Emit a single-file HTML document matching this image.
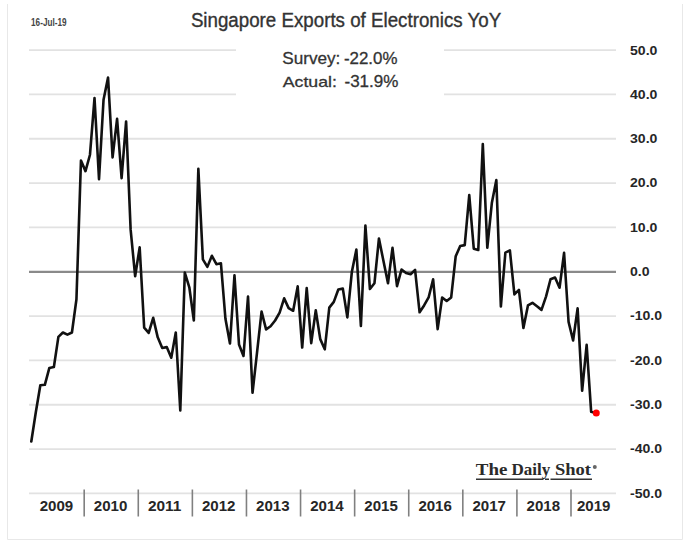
<!DOCTYPE html><html><head><meta charset="utf-8"><style>html,body{margin:0;padding:0;background:#fff;width:689px;height:545px;overflow:hidden}svg{display:block}</style></head><body>
<svg width="689" height="545" viewBox="0 0 689 545">
<rect width="689" height="545" fill="#fff"/>
<path d="M7.5 4V539.5H682.5V4" fill="none" stroke="#e8e8e8" stroke-width="1"/>
<path d="M29 50.10H236M444 50.10H616" stroke="#e2e2e2" stroke-width="1.8"/>
<path d="M29 94.43H236M444 94.43H616" stroke="#e2e2e2" stroke-width="1.8"/>
<path d="M29 138.76H616" stroke="#e2e2e2" stroke-width="1.8"/>
<path d="M29 183.09H616" stroke="#e2e2e2" stroke-width="1.8"/>
<path d="M29 227.42H616" stroke="#e2e2e2" stroke-width="1.8"/>
<path d="M29 316.08H616" stroke="#e2e2e2" stroke-width="1.8"/>
<path d="M29 360.41H616" stroke="#e2e2e2" stroke-width="1.8"/>
<path d="M29 404.74H616" stroke="#e2e2e2" stroke-width="1.8"/>
<path d="M29 449.07H616" stroke="#e2e2e2" stroke-width="1.8"/>
<path d="M29 493.40H616" stroke="#e2e2e2" stroke-width="1.8"/>
<path d="M29 271.90H616" stroke="#8a8a8a" stroke-width="2.1"/>
<path d="M84.19 489.5V516.5" stroke="#808080" stroke-width="1.6"/>
<path d="M138.28 489.5V516.5" stroke="#808080" stroke-width="1.6"/>
<path d="M192.37 489.5V516.5" stroke="#808080" stroke-width="1.6"/>
<path d="M246.46 489.5V516.5" stroke="#808080" stroke-width="1.6"/>
<path d="M300.55 489.5V516.5" stroke="#808080" stroke-width="1.6"/>
<path d="M354.64 489.5V516.5" stroke="#808080" stroke-width="1.6"/>
<path d="M408.73 489.5V516.5" stroke="#808080" stroke-width="1.6"/>
<path d="M462.82 489.5V516.5" stroke="#808080" stroke-width="1.6"/>
<path d="M516.91 489.5V516.5" stroke="#808080" stroke-width="1.6"/>
<path d="M571.00 489.5V516.5" stroke="#808080" stroke-width="1.6"/>
<text x="39.75" y="511.20" textLength="33.50" lengthAdjust="spacingAndGlyphs" font-family='"Liberation Sans", sans-serif' font-weight="bold" font-size="15.10" fill="#262626">2009</text>
<text x="93.84" y="511.20" textLength="33.50" lengthAdjust="spacingAndGlyphs" font-family='"Liberation Sans", sans-serif' font-weight="bold" font-size="15.10" fill="#262626">2010</text>
<text x="147.93" y="511.20" textLength="33.50" lengthAdjust="spacingAndGlyphs" font-family='"Liberation Sans", sans-serif' font-weight="bold" font-size="15.10" fill="#262626">2011</text>
<text x="202.01" y="511.20" textLength="33.50" lengthAdjust="spacingAndGlyphs" font-family='"Liberation Sans", sans-serif' font-weight="bold" font-size="15.10" fill="#262626">2012</text>
<text x="256.11" y="511.20" textLength="33.50" lengthAdjust="spacingAndGlyphs" font-family='"Liberation Sans", sans-serif' font-weight="bold" font-size="15.10" fill="#262626">2013</text>
<text x="310.20" y="511.20" textLength="33.50" lengthAdjust="spacingAndGlyphs" font-family='"Liberation Sans", sans-serif' font-weight="bold" font-size="15.10" fill="#262626">2014</text>
<text x="364.29" y="511.20" textLength="33.50" lengthAdjust="spacingAndGlyphs" font-family='"Liberation Sans", sans-serif' font-weight="bold" font-size="15.10" fill="#262626">2015</text>
<text x="418.38" y="511.20" textLength="33.50" lengthAdjust="spacingAndGlyphs" font-family='"Liberation Sans", sans-serif' font-weight="bold" font-size="15.10" fill="#262626">2016</text>
<text x="472.47" y="511.20" textLength="33.50" lengthAdjust="spacingAndGlyphs" font-family='"Liberation Sans", sans-serif' font-weight="bold" font-size="15.10" fill="#262626">2017</text>
<text x="526.56" y="511.20" textLength="33.50" lengthAdjust="spacingAndGlyphs" font-family='"Liberation Sans", sans-serif' font-weight="bold" font-size="15.10" fill="#262626">2018</text>
<text x="576.90" y="511.20" textLength="33.50" lengthAdjust="spacingAndGlyphs" font-family='"Liberation Sans", sans-serif' font-weight="bold" font-size="15.10" fill="#262626">2019</text>
<text x="630.00" y="54.50" textLength="27.44" lengthAdjust="spacingAndGlyphs" font-family='"Liberation Sans", sans-serif' font-weight="bold" font-size="13.30" fill="#262626">50.0</text>
<text x="630.00" y="98.83" textLength="27.44" lengthAdjust="spacingAndGlyphs" font-family='"Liberation Sans", sans-serif' font-weight="bold" font-size="13.30" fill="#262626">40.0</text>
<text x="630.00" y="143.16" textLength="27.44" lengthAdjust="spacingAndGlyphs" font-family='"Liberation Sans", sans-serif' font-weight="bold" font-size="13.30" fill="#262626">30.0</text>
<text x="630.00" y="187.49" textLength="27.44" lengthAdjust="spacingAndGlyphs" font-family='"Liberation Sans", sans-serif' font-weight="bold" font-size="13.30" fill="#262626">20.0</text>
<text x="630.00" y="231.82" textLength="27.44" lengthAdjust="spacingAndGlyphs" font-family='"Liberation Sans", sans-serif' font-weight="bold" font-size="13.30" fill="#262626">10.0</text>
<text x="630.00" y="276.15" textLength="19.60" lengthAdjust="spacingAndGlyphs" font-family='"Liberation Sans", sans-serif' font-weight="bold" font-size="13.30" fill="#262626">0.0</text>
<text x="630.00" y="320.48" textLength="32.13" lengthAdjust="spacingAndGlyphs" font-family='"Liberation Sans", sans-serif' font-weight="bold" font-size="13.30" fill="#262626">-10.0</text>
<text x="630.00" y="364.81" textLength="32.13" lengthAdjust="spacingAndGlyphs" font-family='"Liberation Sans", sans-serif' font-weight="bold" font-size="13.30" fill="#262626">-20.0</text>
<text x="630.00" y="409.14" textLength="32.13" lengthAdjust="spacingAndGlyphs" font-family='"Liberation Sans", sans-serif' font-weight="bold" font-size="13.30" fill="#262626">-30.0</text>
<text x="630.00" y="453.47" textLength="32.13" lengthAdjust="spacingAndGlyphs" font-family='"Liberation Sans", sans-serif' font-weight="bold" font-size="13.30" fill="#262626">-40.0</text>
<text x="630.00" y="497.80" textLength="32.13" lengthAdjust="spacingAndGlyphs" font-family='"Liberation Sans", sans-serif' font-weight="bold" font-size="13.30" fill="#262626">-50.0</text>
<text x="190.88" y="27.30" textLength="310.32" lengthAdjust="spacingAndGlyphs" font-family='"Liberation Sans", sans-serif' font-weight="normal" font-size="19.30" fill="#333" stroke="#333" stroke-width="0.35">Singapore Exports of Electronics YoY</text>
<text x="31.08" y="25.70" textLength="35.41" lengthAdjust="spacingAndGlyphs" font-family='"Liberation Sans", sans-serif' font-weight="bold" font-size="10.09" fill="#444">16-Jul-19</text>
<text x="282.22" y="64.30" textLength="58.15" lengthAdjust="spacingAndGlyphs" font-family='"Liberation Sans", sans-serif' font-weight="normal" font-size="16.50" fill="#333" stroke="#333" stroke-width="0.3">Survey:</text>
<text x="343.98" y="64.30" textLength="53.49" lengthAdjust="spacingAndGlyphs" font-family='"Liberation Sans", sans-serif' font-weight="normal" font-size="16.50" fill="#333" stroke="#333" stroke-width="0.3">-22.0%</text>
<text x="282.78" y="87.20" textLength="54.10" lengthAdjust="spacingAndGlyphs" font-family='"Liberation Sans", sans-serif' font-weight="normal" font-size="15.11" fill="#333" stroke="#333" stroke-width="0.3">Actual:</text>
<text x="344.48" y="87.20" textLength="53.89" lengthAdjust="spacingAndGlyphs" font-family='"Liberation Sans", sans-serif' font-weight="normal" font-size="15.88" fill="#333" stroke="#333" stroke-width="0.3">-31.9%</text>
<text x="475.88" y="474.80" textLength="31.55" lengthAdjust="spacingAndGlyphs" font-family='"Liberation Serif", serif' font-weight="bold" font-size="16.94" fill="#2a2a2a">The</text>
<text x="511.46" y="474.80" textLength="38.87" lengthAdjust="spacingAndGlyphs" font-family='"Liberation Serif", serif' font-weight="bold" font-size="16.94" fill="#2a2a2a">Daily</text>
<text x="554.94" y="474.80" textLength="35.99" lengthAdjust="spacingAndGlyphs" font-family='"Liberation Serif", serif' font-weight="bold" font-size="16.94" fill="#2a2a2a">Shot</text>
<circle cx="594.8" cy="467" r="2" fill="#666"/>
<path d="M476 479.2H543.5M545 479.2H549M550.5 479.2H592" stroke="#333" stroke-width="1.4"/>
<polyline points="31.30,441.53 35.81,412.28 40.33,385.23 44.84,384.79 49.36,367.95 53.88,367.06 58.39,336.92 62.91,332.48 67.42,334.70 71.94,332.48 76.45,299.23 80.97,160.48 85.48,171.12 89.99,154.72 94.51,97.98 99.02,179.10 103.54,99.75 108.05,77.58 112.57,157.38 117.08,118.81 121.60,178.21 126.11,121.47 130.63,229.64 135.15,276.18 139.66,247.37 144.17,327.61 148.69,332.93 153.20,317.85 157.72,337.36 162.24,348.00 166.75,347.11 171.27,357.75 175.78,332.48 180.29,410.50 184.81,272.64 189.32,287.27 193.84,320.51 198.35,168.90 202.87,259.34 207.38,266.87 211.90,255.79 216.41,264.21 220.93,263.33 225.44,318.74 229.96,343.56 234.47,275.30 238.99,344.45 243.50,355.98 248.02,296.57 252.53,392.77 257.05,352.43 261.56,311.65 266.08,329.38 270.59,326.28 275.11,320.51 279.62,312.53 284.14,298.35 288.65,308.10 293.17,310.76 297.69,286.38 302.20,347.55 306.71,288.15 311.23,343.12 315.75,310.32 320.26,339.13 324.77,349.33 329.29,307.66 333.81,301.89 338.32,289.48 342.83,288.60 347.35,317.41 351.87,271.75 356.38,249.59 360.89,325.83 365.41,225.65 369.93,289.04 374.44,283.28 378.95,238.50 383.47,261.11 387.99,283.28 392.50,247.81 397.01,286.16 401.53,269.53 406.04,273.08 410.56,274.19 415.07,269.98 419.59,312.31 424.10,305.44 428.62,297.46 433.13,279.29 437.65,329.16 442.16,297.46 446.68,301.01 451.19,297.46 455.71,256.23 460.22,246.04 464.74,245.15 469.25,195.06 473.77,248.70 478.28,250.03 482.80,144.08 487.31,247.81 491.83,203.04 496.34,179.99 500.86,306.55 505.38,252.69 509.89,250.47 514.40,294.36 518.92,289.93 523.43,328.05 527.95,305.44 532.46,302.78 536.98,306.33 541.49,309.87 546.01,296.57 550.52,279.29 555.04,277.51 559.55,287.71 564.07,252.91 568.58,321.84 573.10,340.46 577.61,308.32 582.13,390.78 586.64,344.89 591.16,411.83 595.67,412.94" fill="none" stroke="#111" stroke-width="2.6" stroke-linejoin="round" stroke-linecap="round"/>
<circle cx="596.27" cy="412.94" r="3.5" fill="#f00"/>
</svg></body></html>
